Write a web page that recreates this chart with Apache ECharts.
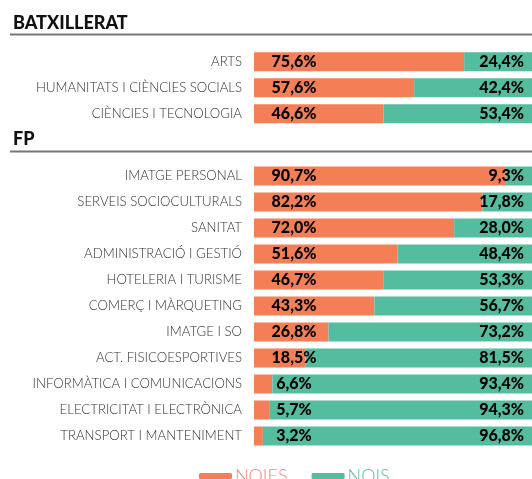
<!DOCTYPE html>
<html>
<head>
<meta charset="utf-8">
<script src="https://cdn.jsdelivr.net/npm/echarts@6/dist/echarts.min.js"></script>
<style>
  html, body { margin: 0; padding: 0; background: #fff; }
  #chart { width: 532px; height: 479px; }
</style>
</head>
<body>
<div id="chart"></div>
<script>
// Batxillerat
var batxCategories = ['ARTS', 'HUMANITATS I CIÈNCIES SOCIALS', 'CIÈNCIES I TECNOLOGIA'];
var batxNoies = [75.6, 57.6, 46.6];
var batxNois = [24.4, 42.4, 53.4];

// FP
var fpCategories = ['IMATGE PERSONAL', 'SERVEIS SOCIOCULTURALS', 'SANITAT', 'ADMINISTRACIÓ I GESTIÓ',
    'HOTELERIA I TURISME', 'COMERÇ I MÀRQUETING', 'IMATGE I SO', 'ACT. FISICOESPORTIVES',
    'INFORMÀTICA I COMUNICACIONS', 'ELECTRICITAT I ELECTRÒNICA', 'TRANSPORT I MANTENIMENT'];
var fpNoies = [90.7, 82.2, 72.0, 51.6, 46.7, 43.3, 26.8, 18.5, 6.6, 5.7, 3.2];
var fpNois = [9.3, 17.8, 28.0, 48.4, 53.3, 56.7, 73.2, 81.5, 93.4, 94.3, 96.8];

var ORANGE = '#F47F56';
var TEAL = '#55BD9F';

function pct(p) {
    return p.value.toFixed(1).replace('.', ',') + '%';
}

var valueLabel = { color: '#000', fontFamily: 'Lato', fontWeight: 900, fontSize: 16 };

function noiesSeries(data, idx) {
    return {
        name: 'NOIES', type: 'bar', stack: 's' + idx, xAxisIndex: idx, yAxisIndex: idx,
        data: data, barWidth: 19, itemStyle: { color: ORANGE },
        label: Object.assign({ show: true, position: [40, '50%'], align: 'center', verticalAlign: 'middle', formatter: pct }, valueLabel)
    };
}
function noisSeries(data, idx) {
    return {
        name: 'NOIS', type: 'bar', stack: 's' + idx, xAxisIndex: idx, yAxisIndex: idx,
        data: data, barWidth: 19, itemStyle: { color: TEAL },
        label: Object.assign({ show: true, position: 'insideRight', distance: 8, formatter: pct }, valueLabel)
    };
}

function catAxis(cats, idx) {
    return {
        type: 'category', gridIndex: idx, data: cats, inverse: true,
        axisLine: { show: false }, axisTick: { show: false },
        axisLabel: { margin: 12, color: '#333', fontFamily: 'Lato', fontWeight: 300, fontSize: 13.2 }
    };
}
function valAxis(idx) {
    return { type: 'value', gridIndex: idx, min: 0, max: 100, show: false };
}

var chart = echarts.init(document.getElementById('chart'));
chart.setOption({
    animation: false,
    title: [
        { text: 'BATXILLERAT', left: 8, top: 9, textStyle: { fontFamily: 'Lato', fontWeight: 900, fontSize: 18, color: '#111' } },
        { text: 'FP', left: 8, top: 125, textStyle: { fontFamily: 'Lato', fontWeight: 900, fontSize: 18, color: '#111' } }
    ],
    graphic: [
        { type: 'line', shape: { x1: 10, y1: 34.5, x2: 532, y2: 34.5 }, style: { stroke: '#777', lineWidth: 2 } },
        { type: 'line', shape: { x1: 10, y1: 151.5, x2: 532, y2: 151.5 }, style: { stroke: '#777', lineWidth: 2 } }
    ],
    grid: [
        { left: 254, top: 48.7, width: 280, height: 78 },
        { left: 254, top: 163, width: 280, height: 286 }
    ],
    xAxis: [valAxis(0), valAxis(1)],
    yAxis: [catAxis(batxCategories, 0), catAxis(fpCategories, 1)],
    legend: {
        left: 199, top: 467, padding: 0, icon: 'roundRect', itemWidth: 33, itemHeight: 6, itemGap: 24,
        textStyle: { fontFamily: 'Lato', fontWeight: 300, fontSize: 18, padding: [0, 0, 0, -2] },
        data: [
            { name: 'NOIES', textStyle: { color: '#F2867A' } },
            { name: 'NOIS', textStyle: { color: '#4FBFA6' } }
        ]
    },
    series: [
        noiesSeries(batxNoies, 0), noisSeries(batxNois, 0),
        noiesSeries(fpNoies, 1), noisSeries(fpNois, 1)
    ]
});
</script>
</body>
</html>
